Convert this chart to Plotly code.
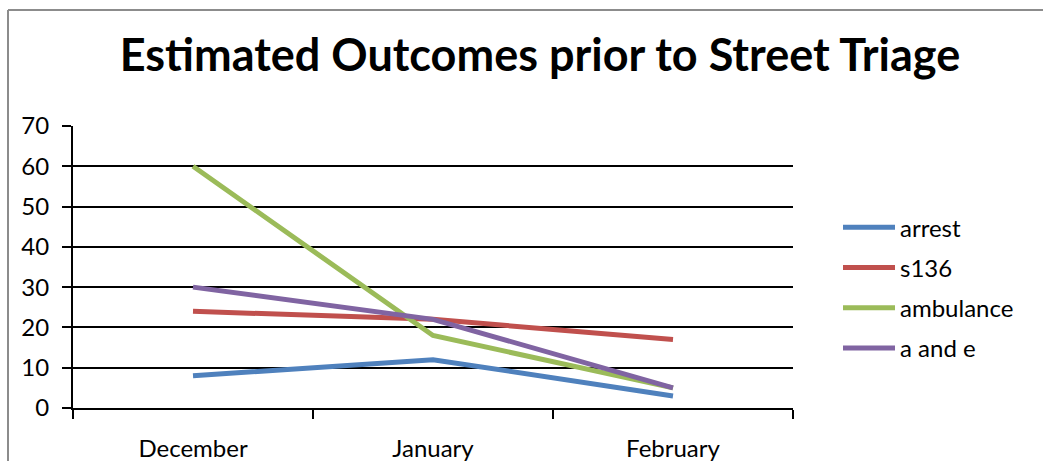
import plotly.graph_objects as go

months = ["December", "January", "February"]
arrest = [8, 12, 3]
s136 = [24, 22, 17]
ambulance = [60, 18, 5]
a_and_e = [30, 22, 5]

series = [
    ("arrest", arrest, "#4F81BD"),
    ("s136", s136, "#C0504D"),
    ("ambulance", ambulance, "#9BBB59"),
    ("a and e", a_and_e, "#8064A2"),
]

FONT = "Lato"

fig = go.Figure()
for i, (name, vals, col) in enumerate(series):
    fig.add_trace(go.Scatter(
        x=months, y=vals, name=name, mode="lines",
        line=dict(color=col, width=5),
        legendgroup=f"g{i}",
    ))

W, H = 1043, 461
L, R, T, B = 73, 1043 - 793, 126, 461 - 408
pw, ph = W - L - R, H - T - B

fig.update_layout(
    width=W, height=H,
    margin=dict(l=L, r=R, t=T, b=B, autoexpand=False),
    paper_bgcolor="white", plot_bgcolor="white",
    font=dict(family=FONT, size=24, color="black"),
    title=dict(text="<b>Estimated Outcomes prior to Street Triage</b>",
               x=(540) / W, xanchor="center", y=1 - 55 / H, yanchor="middle",
               font=dict(family=FONT, size=45, color="black")),
    showlegend=True,
    legend=dict(x=(843 - 73 - 5) / pw, xanchor="left", y=(408 - 228 + 3) / ph + 0.07, yanchor="top",
                font=dict(family=FONT, size=24), tracegroupgap=6, itemwidth=52,
                bgcolor="rgba(0,0,0,0)"),
)

fig.update_xaxes(
    type="category", range=[-0.5, 2.5], automargin=False,
    showline=True, linecolor="black", linewidth=2,
    ticks="outside", tickson="boundaries", ticklen=9, tickwidth=2, tickcolor="black",
    showgrid=False, ticklabelstandoff=18,
    tickfont=dict(family=FONT, size=24),
)
fig.update_yaxes(
    range=[0, 70], dtick=10, tick0=0, automargin=False,
    showline=True, linecolor="black", linewidth=2,
    ticks="outside", ticklen=9, tickwidth=2, tickcolor="black",
    showgrid=True, gridcolor="black", gridwidth=2,
    zeroline=False,
    tickfont=dict(family=FONT, size=24),
    ticklabelstandoff=8,
)

# outer chart frame (grey border, top and left visible)
x0 = (8 - L) / pw
y0 = (408 - 10) / ph
fig.add_shape(type="line", xref="paper", yref="paper", x0=x0, x1=(W - L) / pw + 0.05, y0=y0, y1=y0,
              line=dict(color="#8C8C8C", width=2))
fig.add_shape(type="line", xref="paper", yref="paper", x0=x0, x1=x0, y0=y0, y1=-B / ph - 0.05,
              line=dict(color="#8C8C8C", width=2))

fig.write_html("out.html")
